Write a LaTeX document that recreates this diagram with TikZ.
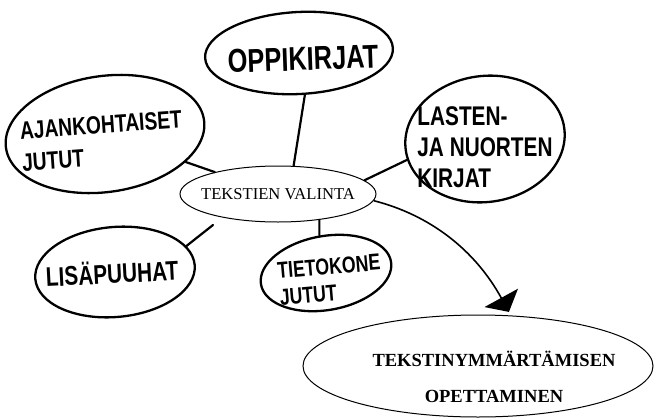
\documentclass[tikz,border=0pt]{standalone}
\usepackage{fontspec}
\setmainfont{Liberation Serif}
\newfontfamily\hand[FakeStretch=0.77]{Liberation Sans Bold}
\usetikzlibrary{shapes.geometric,arrows.meta}

\tikzset{
  handoval/.style={draw, ellipse, line width=2.3pt, inner sep=0pt},
  printoval/.style={draw, ellipse, line width=1pt, inner sep=0pt},
  handtext/.style={font=\hand, align=left, inner sep=0pt},
  printtext/.style={align=center, inner sep=0pt},
  handline/.style={line width=2.2pt, line cap=round},
  bigarrow/.style={line width=1.6pt, -{Triangle[width=38pt,length=16pt]}}
}

\begin{document}
\begin{tikzpicture}[x=1pt, y=-1pt]
  \useasboundingbox (0,0) rectangle (654,418);

  % central topic
  \node[printoval, minimum width=196pt, minimum height=56pt] (cen) at (278,194) {};
  \node[printtext, font=\fontsize{16.6}{18}\selectfont] (centxt) at (278,194) {TEKSTIEN VALINTA};

  % hand-drawn branches
  \node[handoval, minimum width=188pt, minimum height=82pt, rotate=3] (opp) at (299,53) {};
  \node[handtext, font=\hand\fontsize{33}{36}\selectfont, rotate=2] (opptxt) at (303,59) {OPPIKIRJAT};

  \node[handoval, minimum width=200pt, minimum height=116pt, rotate=8] (ajan) at (105,134) {};
  \node[handtext, font=\hand\fontsize{25}{32}\selectfont, rotate=4] (ajantxt) at (102,141) {AJANKOHTAISET\\JUTUT};

  \node[handoval, minimum width=160pt, minimum height=126pt, rotate=8] (lasten) at (485,139) {};
  \node[handtext, font=\hand\fontsize{27}{31}\selectfont] (lastentxt) at (485,147) {LASTEN-\\JA NUORTEN\\KIRJAT};

  \node[handoval, minimum width=160pt, minimum height=90pt, rotate=5] (lisa) at (115,272) {};
  \node[handtext, font=\hand\fontsize{27}{30}\selectfont, rotate=3] (lisatxt) at (112,272) {LISÄPUUHAT};

  \node[handoval, minimum width=132pt, minimum height=74pt, rotate=10] (tieto) at (326,273) {};
  \node[handtext, font=\hand\fontsize{23}{27}\selectfont, rotate=5] (tietotxt) at (330,280) {TIETOKONE\\JUTUT};

  % outcome
  \node[printoval, minimum width=350pt, minimum height=102pt] (big) at (478,366) {};
  \node[printtext, font=\bfseries\fontsize{18.5}{36}\selectfont] (bigtxt) at (494,377) {TEKSTINYMMÄRTÄMISEN\\OPETTAMINEN};

  % connectors
  \coordinate (lisaend) at (213,225);
  \draw[handline] (opp.-85) -- (cen.61);
  \draw[handline] (ajan) -- (cen);
  \draw[handline] (lasten.187) -- (cen.9);
  \draw[handline] (lisa.15) -- (lisaend);
  \draw[handline] (cen.-32) -- (tieto.90);

  \draw[bigarrow, shorten >=4pt] (cen.-4) .. controls (430,215) and (475,250) .. (big.57);
\end{tikzpicture}
\end{document}
